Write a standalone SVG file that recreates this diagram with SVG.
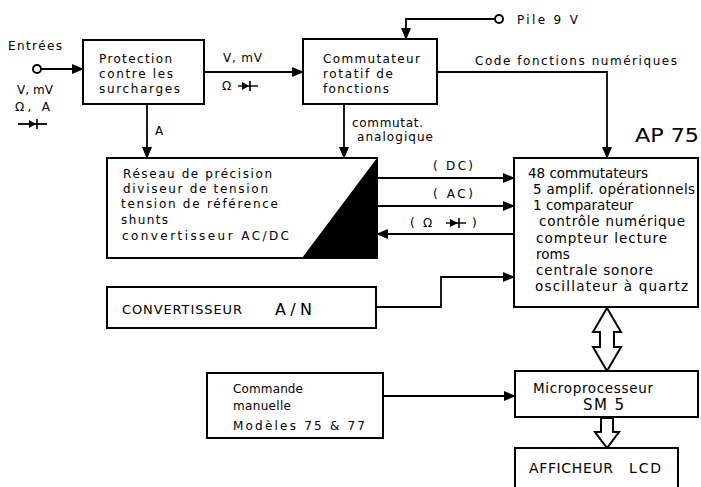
<svg xmlns="http://www.w3.org/2000/svg" width="701" height="487" viewBox="0 0 701 487">
<defs>
<marker id="ah" markerWidth="12" markerHeight="10" refX="11" refY="5" orient="auto" markerUnits="userSpaceOnUse"><path d="M0,0 L12,5 L0,10 Z" fill="#000"/></marker>
<style>
.box{fill:#fff;stroke:#000;stroke-width:2}
.ln{fill:none;stroke:#000;stroke-width:1.8}
.t{font-family:"DejaVu Sans","Liberation Sans",sans-serif;font-size:12px;fill:#000}
.tc{font-family:"DejaVu Sans","Liberation Sans",sans-serif;font-size:14px;fill:#000}
.tb{font-family:"DejaVu Sans","Liberation Sans",sans-serif;font-size:13.5px;fill:#000}
.hollow{fill:#fff;stroke:#000;stroke-width:2;stroke-linejoin:miter}
</style>
</defs>
<rect width="701" height="487" fill="#fff"/>

<g id="connectors">
<circle cx="37" cy="69" r="4" fill="#fff" stroke="#000" stroke-width="2"/>
<line class="ln" x1="41" y1="69" x2="83" y2="69" marker-end="url(#ah)"/>
<line class="ln" x1="204" y1="72" x2="303" y2="72" marker-end="url(#ah)"/>
<line class="ln" x1="147" y1="104" x2="147" y2="158" marker-end="url(#ah)"/>
<line class="ln" x1="344" y1="104" x2="344" y2="158" marker-end="url(#ah)"/>
<circle cx="499" cy="19" r="4" fill="#fff" stroke="#000" stroke-width="2"/>
<polyline class="ln" points="495,19 406,19 406,39" marker-end="url(#ah)"/>
<polyline class="ln" points="437,72 607,72 607,158" marker-end="url(#ah)"/>
<line class="ln" x1="377" y1="178" x2="514" y2="178" marker-end="url(#ah)"/>
<line class="ln" x1="377" y1="206" x2="514" y2="206" marker-end="url(#ah)"/>
<line class="ln" x1="514" y1="234" x2="377" y2="234" marker-end="url(#ah)"/>
<polyline class="ln" points="376,307 441,307 441,277 514,277" marker-end="url(#ah)"/>
<line class="ln" x1="383" y1="396" x2="515" y2="396" marker-end="url(#ah)"/>
<path class="hollow" d="M607,308 L621,332 L614,332 L614,347 L621,347 L607,371 L593,347 L600,347 L600,332 L593,332 Z"/>
<path class="hollow" d="M601,418 L613,418 L613,432 L619,432 L607,448 L595,432 L601,432 Z"/>
</g>

<g id="input-labels">
<text class="t" x="8" y="50" textLength="54" lengthAdjust="spacing">Entrées</text>
<text class="t" x="17" y="94" textLength="36" lengthAdjust="spacing">V, mV</text>
<text class="t" x="15" y="111" textLength="35" lengthAdjust="spacing">Ω, A</text>
<line class="ln" x1="18" y1="124" x2="47" y2="124" stroke-width="1.4"/>
<path d="M29,120 L36,124 L29,128 Z" fill="#000"/>
<line x1="37" y1="119" x2="37" y2="129" stroke="#000" stroke-width="1.6"/>
<text class="t" x="155" y="135">A</text>
<text class="t" x="223" y="62" textLength="39" lengthAdjust="spacing">V, mV</text>
<text class="t" x="222" y="90">Ω</text>
<line x1="238" y1="86" x2="258" y2="86" stroke="#000" stroke-width="1.4"/>
<path d="M242,82 L249,86 L242,90 Z" fill="#000"/>
<line x1="250" y1="81" x2="250" y2="91" stroke="#000" stroke-width="1.6"/>
<text class="t" x="352" y="127" textLength="71" lengthAdjust="spacing">commutat.</text>
<text class="t" x="357" y="141" textLength="76" lengthAdjust="spacing">analogique</text>
<text class="t" x="517" y="24" textLength="61" lengthAdjust="spacing">Pile 9 V</text>
<text class="t" x="475" y="65" textLength="202" lengthAdjust="spacing">Code fonctions numériques</text>
<text class="t" x="433" y="170" textLength="40" lengthAdjust="spacing">( DC)</text>
<text class="t" x="433" y="198" textLength="40" lengthAdjust="spacing">( AC)</text>
<text class="t" x="410" y="227">(</text>
<text class="t" x="423" y="227">Ω</text>
<line x1="446" y1="223" x2="466" y2="223" stroke="#000" stroke-width="1.4"/>
<path d="M450,219 L458,223 L450,227 Z" fill="#000"/>
<line x1="459" y1="218" x2="459" y2="228" stroke="#000" stroke-width="1.6"/>
<text class="t" x="472" y="227">)</text>
</g>

<g id="protection">
<rect class="box" x="83" y="40" width="121" height="64"/>
<text class="t" x="99" y="63" textLength="73" lengthAdjust="spacing">Protection</text>
<text class="t" x="99" y="78" textLength="74" lengthAdjust="spacing">contre les</text>
<text class="t" x="99" y="93" textLength="81" lengthAdjust="spacing">surcharges</text>
</g>

<g id="commutateur">
<rect class="box" x="303" y="39" width="134" height="65"/>
<text class="t" x="323" y="63" textLength="97" lengthAdjust="spacing">Commutateur</text>
<text class="t" x="323" y="78" textLength="70" lengthAdjust="spacing">rotatif de</text>
<text class="t" x="323" y="93" textLength="66" lengthAdjust="spacing">fonctions</text>
</g>

<g id="reseau">
<rect class="box" x="107" y="158" width="270" height="100"/>
<path d="M377,158 L377,258 L302,258 Z" fill="#000"/>
<text class="t" x="123" y="178" textLength="149" lengthAdjust="spacing">Réseau de précision</text>
<text class="t" x="123" y="193" textLength="145" lengthAdjust="spacing">diviseur de tension</text>
<text class="t" x="121" y="208" textLength="157" lengthAdjust="spacing">tension de référence</text>
<text class="t" x="121" y="224" textLength="47" lengthAdjust="spacing">shunts</text>
<text class="t" x="122" y="240" textLength="167" lengthAdjust="spacing">convertisseur AC/DC</text>
</g>

<g id="convertisseur">
<rect class="box" x="107" y="287" width="269" height="41"/>
<text class="t" x="122" y="314" style="font-size:13px" textLength="120" lengthAdjust="spacing">CONVERTISSEUR</text>
<text class="tc" x="275" y="315" style="font-size:16px" textLength="37" lengthAdjust="spacing">A/N</text>
</g>

<g id="ap75">
<text x="635" y="142" font-family="'DejaVu Sans','Liberation Sans',sans-serif" font-size="20" textLength="64" lengthAdjust="spacingAndGlyphs">AP 75</text>
<rect class="box" x="514" y="158" width="184" height="149"/>
<text class="tb" x="528" y="178" textLength="120" lengthAdjust="spacing">48 commutateurs</text>
<text class="tb" x="533" y="194" textLength="162" lengthAdjust="spacing">5 amplif. opérationnels</text>
<text class="tb" x="533" y="210">1 comparateur</text>
<text class="tb" x="539" y="226" textLength="146" lengthAdjust="spacing">contrôle numérique</text>
<text class="tb" x="536" y="243" textLength="131" lengthAdjust="spacing">compteur lecture</text>
<text class="tb" x="536" y="259">roms</text>
<text class="tb" x="536" y="275" textLength="117" lengthAdjust="spacing">centrale sonore</text>
<text class="tb" x="535" y="291" textLength="153" lengthAdjust="spacing">oscillateur à quartz</text>
</g>

<g id="commande">
<rect class="box" x="207" y="373" width="176" height="65"/>
<text class="t" x="233" y="393" textLength="70" lengthAdjust="spacing">Commande</text>
<text class="t" x="233" y="410" textLength="58" lengthAdjust="spacing">manuelle</text>
<text class="t" x="233" y="430" textLength="132" lengthAdjust="spacing">Modèles 75 &amp; 77</text>
</g>

<g id="microprocesseur">
<rect class="box" x="515" y="371" width="183" height="46"/>
<text class="tb" x="533" y="393" textLength="120" lengthAdjust="spacing">Microprocesseur</text>
<text class="tb" x="583" y="410" style="font-size:15px" textLength="41" lengthAdjust="spacing">SM 5</text>
</g>

<g id="afficheur">
<path d="M515,490 L515,448 L678,448 L678,490" fill="#fff" stroke="#000" stroke-width="2"/>
<text class="tc" x="529" y="473" textLength="84" lengthAdjust="spacing">AFFICHEUR</text>
<text class="tc" x="629" y="473" textLength="32" lengthAdjust="spacing">LCD</text>
</g>
</svg>
